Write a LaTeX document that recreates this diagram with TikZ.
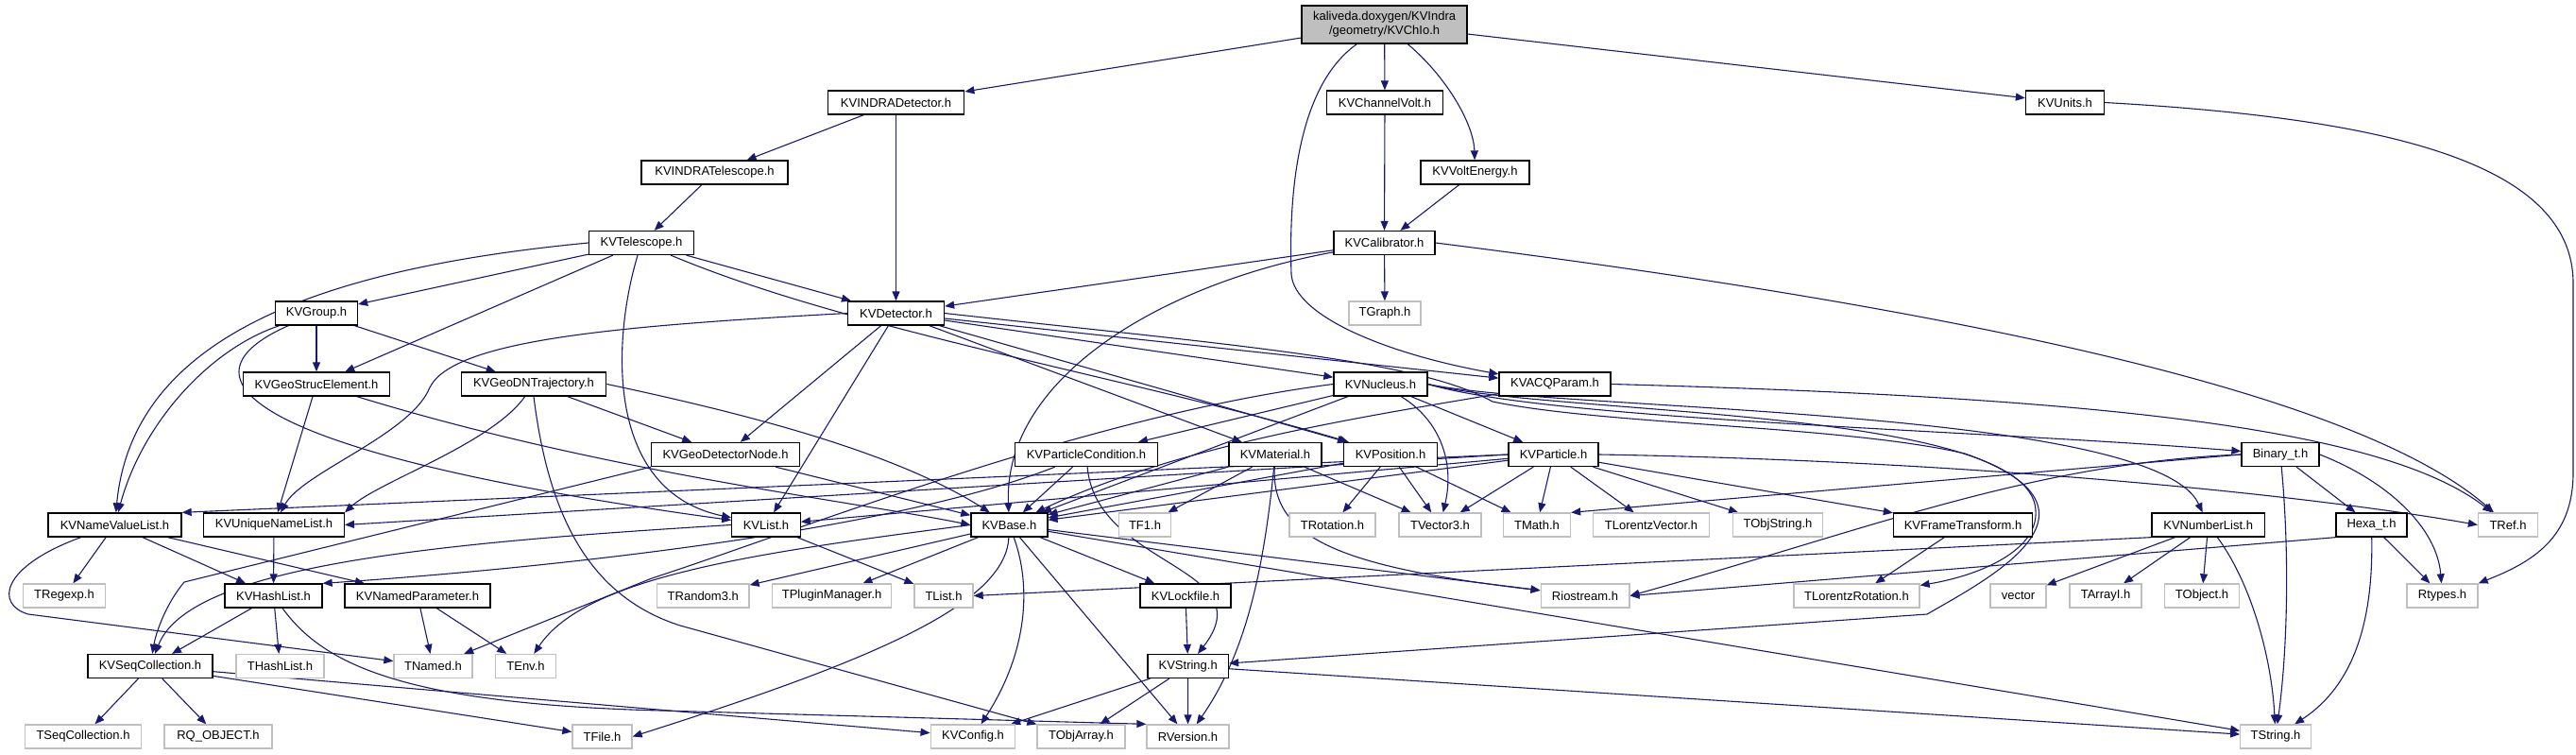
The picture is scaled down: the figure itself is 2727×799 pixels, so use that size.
\documentclass[tikz,border=0pt]{standalone}
\usepackage{fontspec}
\setmainfont{Liberation Sans}
\usetikzlibrary{arrows.meta,calc}
\definecolor{edgeblue}{RGB}{25,25,112}
\definecolor{boxgrey}{RGB}{191,191,191}
\definecolor{fillgrey}{RGB}{191,191,191}
\pgfdeclarelayer{bg}
\pgfsetlayers{bg,main}
\begin{document}
\begin{tikzpicture}[x=1pt,y=-1pt,
  kv/.style={draw=black,line width=1.3pt,fill=white,minimum height=25pt,inner sep=1pt,font=\fontsize{13}{15}\selectfont},
  ext/.style={kv,draw=boxgrey},
  e/.style={draw=edgeblue,line width=1.1pt,-{Triangle[length=10pt,width=8pt]}},
]
\useasboundingbox (0,0) rectangle (2727,799);
% row 0
\node[kv,minimum width=175pt,minimum height=40pt,fill=fillgrey,align=center] (chio) at (1465.6,26) {kaliveda.doxygen/KVIndra\\/geometry/KVChIo.h};
% row 1
\node[kv,minimum width=144.5pt] (indradet) at (948.5,108.5) {KVINDRADetector.h};
\node[kv,minimum width=123pt] (chvolt) at (1466,108.5) {KVChannelVolt.h};
\node[kv,minimum width=83pt] (units) at (2186,108.5) {KVUnits.h};
% row 2
\node[kv,minimum width=155pt] (indratel) at (756.5,182.5) {KVINDRATelescope.h};
\node[kv,minimum width=115pt] (voltE) at (1561.5,182.5) {KVVoltEnergy.h};
% row 3
\node[kv,minimum width=110.5pt] (tel) at (679,257) {KVTelescope.h};
\node[kv,minimum width=107pt] (calib) at (1465.5,257) {KVCalibrator.h};
% row 4
\node[kv,minimum width=87pt] (group) at (335,331.5) {KVGroup.h};
\node[kv,minimum width=102pt] (det) at (948.5,331.5) {KVDetector.h};
\node[ext,minimum width=76pt] (tgraph) at (1466,331.5) {TGraph.h};
% row 5
\node[kv,minimum width=154.5pt] (geostruc) at (335,406.5) {KVGeoStrucElement.h};
\node[kv,minimum width=153.5pt] (geodn) at (565,406.5) {KVGeoDNTrajectory.h};
\node[kv,minimum width=99pt] (nucleus) at (1461.5,406.5) {KVNucleus.h};
\node[kv,minimum width=118pt] (acq) at (1646,406.5) {KVACQParam.h};
% row 6
\node[kv,minimum width=156.7pt] (geonode) at (768,481) {KVGeoDetectorNode.h};
\node[kv,minimum width=150.4pt] (partcond) at (1150,481) {KVParticleCondition.h};
\node[kv,minimum width=98pt] (material) at (1350,481) {KVMaterial.h};
\node[kv,minimum width=98.6pt] (pos) at (1472,481) {KVPosition.h};
\node[kv,minimum width=95pt] (particle) at (1644.5,481) {KVParticle.h};
\node[kv,minimum width=82pt] (binary) at (2414,481) {Binary\_t.h};
% row 7
\node[kv,minimum width=141pt] (nvl) at (121.5,555.5) {KVNameValueList.h};
\node[kv,minimum width=148.7pt] (unl) at (290,555.5) {KVUniqueNameList.h};
\node[kv,minimum width=72.4pt] (kvlist) at (811,555.5) {KVList.h};
\node[kv,minimum width=81pt] (base) at (1068.4,555.5) {KVBase.h};
\node[ext,minimum width=55.5pt] (tf1) at (1212,555.5) {TF1.h};
\node[ext,minimum width=91pt] (trot) at (1410.5,555.5) {TRotation.h};
\node[ext,minimum width=87pt] (tvec) at (1524.5,555.5) {TVector3.h};
\node[ext,minimum width=71pt] (tmath) at (1627,555.5) {TMath.h};
\node[ext,minimum width=122.6pt] (tlv) at (1748,555.5) {TLorentzVector.h};
\node[ext,minimum width=94.4pt] (tobjstr) at (1882,555.5) {TObjString.h};
\node[kv,minimum width=147pt] (frame) at (2078,555.5) {KVFrameTransform.h};
\node[kv,minimum width=119.4pt] (numlist) at (2337.7,555.5) {KVNumberList.h};
\node[kv,minimum width=75pt] (hexa) at (2510.5,555.5) {Hexa\_t.h};
\node[ext,minimum width=63pt] (tref) at (2655,555.5) {TRef.h};
% row 8
\node[ext,minimum width=87pt] (tregexp) at (68,630.5) {TRegexp.h};
\node[kv,minimum width=103pt] (hashlist) at (289.5,630.5) {KVHashList.h};
\node[kv,minimum width=154pt] (namedpar) at (442,630.5) {KVNamedParameter.h};
\node[ext,minimum width=97.4pt] (trandom) at (744.3,630.5) {TRandom3.h};
\node[ext,minimum width=126.3pt] (tplugin) at (880.6,630.5) {TPluginManager.h};
\node[ext,minimum width=62pt] (tlist) at (999,630.5) {TList.h};
\node[kv,minimum width=96pt] (lockfile) at (1255,630.5) {KVLockfile.h};
\node[ext,minimum width=93.7pt] (riostream) at (1678,630.5) {Riostream.h};
\node[ext,minimum width=133pt] (tlrot) at (1965.5,630.5) {TLorentzRotation.h};
\node[ext,minimum width=59pt] (vector) at (2136.5,630.5) {vector};
\node[ext,minimum width=76pt] (tarrayi) at (2229,630.5) {TArrayI.h};
\node[ext,minimum width=79pt] (tobject) at (2331,630.5) {TObject.h};
\node[ext,minimum width=75pt] (rtypes) at (2585.5,630.5) {Rtypes.h};
% row 9
\node[kv,minimum width=132pt] (seqcoll) at (159,705) {KVSeqCollection.h};
\node[ext,minimum width=93pt] (thashlist) at (296.5,705) {THashList.h};
\node[ext,minimum width=83pt] (tnamed) at (458.5,705) {TNamed.h};
\node[ext,minimum width=64pt] (tenv) at (556.5,705) {TEnv.h};
\node[kv,minimum width=85.5pt] (kvstring) at (1257.7,705) {KVString.h};
% row 10
\node[ext,minimum width=123pt] (tseqcoll) at (88,779.5) {TSeqCollection.h};
\node[ext,minimum width=114pt] (rqobject) at (231,779.5) {RQ\_OBJECT.h};
\node[ext,minimum width=63pt] (tfile) at (637.5,779.5) {TFile.h};
\node[ext,minimum width=89.6pt] (kvconfig) at (1030,779.5) {KVConfig.h};
\node[ext,minimum width=93pt] (tobjarray) at (1144.5,779.5) {TObjArray.h};
\node[ext,minimum width=87pt] (rversion) at (1257.5,779.5) {RVersion.h};
\node[ext,minimum width=74.5pt] (tstring) at (2409,779.5) {TString.h};

\begin{pgfonlayer}{bg}
% KVChIo
\draw[e] (chio) -- (indradet);
\draw[e] (chio) -- (chvolt);
\draw[e] (chio) .. controls (1530,80) and (1560,130) .. (voltE);
\draw[e] (chio) -- (units);
\draw[e] (chio) .. controls (1375,90) and (1364,200) .. (1367,290) .. controls (1370,335) and (1470,375) .. (acq);
\draw[e] (indradet) -- (indratel);
\draw[e] (indradet) -- (det);
\draw[e] (indratel) -- (tel);
\draw[e] (chvolt) -- (calib);
\draw[e] (voltE) -- (calib);
\draw[e] (units.east) .. controls (2520,125) and (2724,170) .. (2724,300) -- (2724,500) .. controls (2724,570) and (2680,595) .. (rtypes.north east);
% KVCalibrator
\draw[e] (calib) -- (det);
\draw[e] (calib) .. controls (1230,300) and (1062,400) .. (base);
\draw[e] (calib) -- (tgraph);
\draw[e] (calib.east) .. controls (2100,330) and (2500,420) .. (tref);
% KVTelescope
\draw[e] (tel) -- (group);
\draw[e] (tel) -- (det);
\draw[e] (tel) -- (geostruc);
\draw[e] (tel.west) .. controls (330,285) and (140,360) .. (nvl);
\draw[e] (tel) .. controls (648,360) and (640,520) .. (kvlist);
\draw[e] (tel) .. controls (900,350) and (1200,400) .. (pos);
% KVGroup
\draw[e] (group) -- (geostruc);
\draw[e] (group) -- (geodn);
\draw[e] (group) .. controls (220,370) and (150,450) .. (nvl);
\draw[e] (group) .. controls (180,400) and (260,480) .. (kvlist);
% KVGeoStrucElement / KVGeoDNTrajectory
\draw[e] (geostruc) -- (unl);
\draw[e] (geostruc) .. controls (640,500) and (900,530) .. (base.west);
\draw[e] (geodn) .. controls (520,470) and (400,510) .. (unl.north east);
\draw[e] (geodn) -- (geonode);
\draw[e] (geodn.south) .. controls (580,540) and (620,630) .. (720,662) -- (tobjarray);
\draw[e] (geodn.east) .. controls (800,440) and (950,480) .. (base);
% KVDetector
\draw[e] (det.west) .. controls (650,345) and (480,360) .. (455,410) .. controls (435,460) and (320,500) .. (unl);
\draw[e] (det) -- (geonode);
\draw[e] (det) -- (kvlist);
\draw[e] (det) -- (material);
\draw[e] (det) -- (pos);
\draw[e] (det) -- (nucleus);
\draw[e] (det) -- (acq);
\draw[e] (det.east) .. controls (1300,365) and (1500,380) .. (1580,425) .. controls (1700,450) and (1950,450) .. (2080,480) .. controls (2250,540) and (2100,615) .. (2040,650) -- (kvstring);
% KVNucleus
\draw[e] (nucleus) -- (particle);
\draw[e] (nucleus) -- (partcond);
\draw[e] (nucleus) -- (base);
\draw[e] (nucleus) .. controls (1525,445) and (1540,490) .. (tvec);
\draw[e] (nucleus.east) .. controls (1640,435) and (2280,430) .. (numlist);
\draw[e] (nucleus.east) .. controls (1640,445) and (2100,455) .. (binary);
\draw[e] (nucleus.east) .. controls (1640,440) and (2150,430) .. (2155,540) .. controls (2158,585) and (2090,610) .. (tlrot);
\draw[e] (nucleus.west) .. controls (1150,440) and (850,560) .. (690,612) -- (tnamed);
% KVACQParam
\draw[e] (acq) .. controls (1450,440) and (1250,470) .. (base);
\draw[e] (acq.east) .. controls (2200,420) and (2520,450) .. (tref);
% KVGeoDetectorNode
\draw[e] (geonode) -- (base);
\draw[e] (geonode.south west) -- (195,616) .. controls (175,640) and (165,670) .. (seqcoll);
% KVParticleCondition
\draw[e] (partcond) -- (base);
\draw[e] (partcond) .. controls (1160,600) and (1340,600) .. (kvstring);
\draw[e] (partcond) .. controls (950,560) and (600,600) .. (hashlist.north east);
% KVMaterial
\draw[e] (material) -- (base);
\draw[e] (material) -- (tf1);
\draw[e] (material) -- (tvec);
\draw[e] (material) .. controls (1338,600) and (1320,690) .. (rversion);
\draw[e] (material) .. controls (1345,570) and (1420,600) .. (riostream);
% KVPosition
\draw[e] (pos) -- (base);
\draw[e] (pos) -- (trot);
\draw[e] (pos) -- (tvec);
\draw[e] (pos) -- (tmath);
% KVParticle
\draw[e] (particle) -- (base);
\draw[e] (particle) -- (kvlist);
\draw[e] (particle.west) -- (nvl.north east);
\draw[e] (particle.west) -- (unl.east);
\draw[e] (particle) -- (tvec);
\draw[e] (particle) -- (tmath);
\draw[e] (particle) -- (tlv);
\draw[e] (particle) -- (tobjstr);
\draw[e] (particle) -- (frame);
\draw[e] (particle.east) .. controls (2100,488) and (2450,525) .. (tref.west);
% Binary_t / Hexa_t
\draw[e] (binary.west) -- (tmath.north east);
\draw[e] (binary.west) .. controls (2150,490) and (1980,560) .. (riostream.east);
\draw[e] (binary) -- (hexa);
\draw[e] (binary.east) .. controls (2530,510) and (2580,560) .. (rtypes);
\draw[e] (binary) .. controls (2425,600) and (2420,700) .. (tstring);
\draw[e] (hexa.south west) -- (riostream.east);
\draw[e] (hexa) -- (rtypes);
\draw[e] (hexa) .. controls (2512,640) and (2500,720) .. (tstring);
% KVNumberList
\draw[e] (numlist.south west) -- (tlist.east);
\draw[e] (numlist) -- (vector);
\draw[e] (numlist) -- (tarrayi);
\draw[e] (numlist) -- (tobject);
\draw[e] (numlist) .. controls (2385,620) and (2405,700) .. (tstring);
\draw[e] (frame) -- (tlrot);
% KVList / KVBase
\draw[e] (kvlist) -- (tlist);
\draw[e] (kvlist.west) .. controls (450,575) and (200,600) .. (seqcoll);
\draw[e] (base) -- (trandom);
\draw[e] (base) -- (tplugin);
\draw[e] (base) -- (lockfile);
\draw[e] (base) -- (riostream);
\draw[e] (base) -- (tstring);
\draw[e] (base) -- (rversion);
\draw[e] (base) .. controls (1092,620) and (1088,690) .. (kvconfig);
\draw[e] (base) .. controls (1065,640) and (920,700) .. (tfile.east);
\draw[e] (base.west) .. controls (800,585) and (620,610) .. (tenv);
% KVLockfile / KVString
\draw[e] (lockfile) -- (kvstring);
\draw[e] (kvstring) -- (kvconfig);
\draw[e] (kvstring) -- (tobjarray);
\draw[e] (kvstring) -- (rversion);
\draw[e] (kvstring) -- (tstring);
% left cluster
\draw[e] (nvl) -- (tregexp);
\draw[e] (nvl) -- (hashlist);
\draw[e] (nvl) -- (namedpar);
\draw[e] (nvl) .. controls (0,600) and (-5,640) .. (30,650) -- (tnamed);
\draw[e] (unl) -- (hashlist);
\draw[e] (hashlist) -- (seqcoll);
\draw[e] (hashlist) -- (thashlist);
\draw[e] (hashlist) .. controls (340,700) and (420,745) .. (700,752) -- (rversion.north west);
\draw[e] (namedpar) -- (tnamed);
\draw[e] (namedpar) -- (tenv);
\draw[e] (seqcoll) -- (tseqcoll);
\draw[e] (seqcoll) -- (rqobject);
\draw[e] (seqcoll) -- (tfile);
\draw[e] (seqcoll) -- (kvconfig);
\end{pgfonlayer}
\end{tikzpicture}
\end{document}
